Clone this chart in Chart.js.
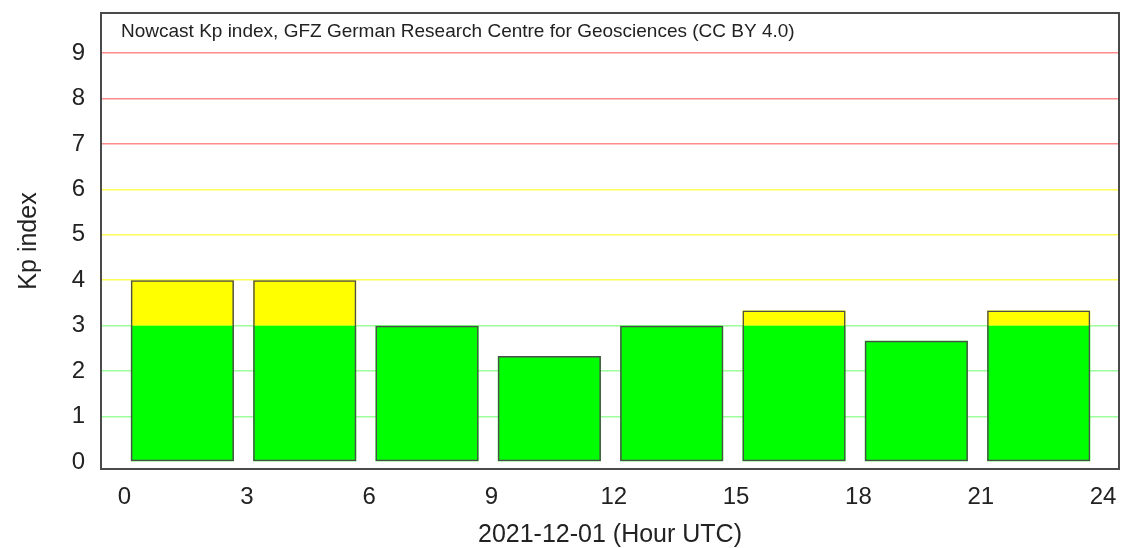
<!DOCTYPE html>
<html>
<head>
<meta charset="utf-8">
<script src="https://cdn.jsdelivr.net/npm/chart.js@4.4.1/dist/chart.umd.min.js"></script>
<style>
  html, body { margin: 0; padding: 0; background: #ffffff; }
  #wrap { width: 1123px; height: 548px; position: relative; }
</style>
</head>
<body>
<div id="wrap"><canvas id="kp"></canvas></div>
<script>
// Three-hourly Kp values for 2021-12-01, one per 3-hour slot
const slotStartHours = [0, 3, 6, 9, 12, 15, 18, 21];
const kpValues = [4, 4, 3, 2.333, 3, 3.333, 2.667, 3.333];
const hourTicks = [0, 3, 6, 9, 12, 15, 18, 21, 24];
const kpTicks = [0, 1, 2, 3, 4, 5, 6, 7, 8, 9];

const titleText = 'Nowcast Kp index, GFZ German Research Centre for Geosciences (CC BY 4.0)';
const xTitle = '2021-12-01 (Hour UTC)';
const yTitle = 'Kp index';

const FONT = '"Liberation Sans", Arial, Helvetica, sans-serif';
const SLOT_CENTER = 1.42;   // bar centre inside each 3-hour slot

// colour bands: quiet (0-3), active (3-4), storm (>4)
const greenBand = slotStartHours.map((h, i) => ({ x: h + SLOT_CENTER, y: [0, Math.min(kpValues[i], 3)] }));
const yellowBand = slotStartHours
  .map((h, i) => ({ x: h + SLOT_CENTER, v: kpValues[i] }))
  .filter(d => d.v > 3)
  .map(d => ({ x: d.x, y: [3, Math.min(d.v, 4)] }));
const redBand = slotStartHours
  .map((h, i) => ({ x: h + SLOT_CENTER, v: kpValues[i] }))
  .filter(d => d.v > 4)
  .map(d => ({ x: d.x, y: [4, d.v] }));
const outline = slotStartHours.map((h, i) => ({ x: h + SLOT_CENTER, y: [0, kpValues[i]] }));

function gridColour(v) {
  if (v === 0) return 'rgba(0,0,0,0)';
  if (v <= 3) return '#9cff9c';
  if (v <= 6) return '#ffff55';
  return '#ff8c8c';
}

const framePlugin = {
  id: 'frame',
  afterDraw(chart) {
    const { ctx, chartArea: a } = chart;
    ctx.save();
    ctx.strokeStyle = '#4a4a4a';
    ctx.lineWidth = 2;
    ctx.strokeRect(a.left, a.top, a.right - a.left, a.bottom - a.top);
    ctx.font = '19px ' + FONT;
    ctx.fillStyle = '#222222';
    ctx.textBaseline = 'middle';
    ctx.textAlign = 'left';
    ctx.fillText(titleText, a.left + 20, a.top + 19);
    ctx.restore();
  }
};

const barCommon = {
  grouped: false,
  categoryPercentage: 0.843,
  barPercentage: 1,
  borderSkipped: false
};

new Chart(document.getElementById('kp'), {
  type: 'bar',
  data: {
    datasets: [
      Object.assign({ label: 'outline', data: outline, backgroundColor: 'rgba(0,0,0,0)', borderColor: '#4d4d4d', borderWidth: 1.5, order: 0 }, barCommon),
      Object.assign({ label: 'Kp ≤ 3', data: greenBand, backgroundColor: '#00ff00', borderWidth: 0, order: 1 }, barCommon),
      Object.assign({ label: '3 < Kp ≤ 4', data: yellowBand, backgroundColor: '#ffff00', borderWidth: 0, order: 1 }, barCommon),
      Object.assign({ label: 'Kp > 4', data: redBand, backgroundColor: '#ff0000', borderWidth: 0, order: 1 }, barCommon)
    ]
  },
  options: {
    responsive: true,
    maintainAspectRatio: false,
    animation: false,
    devicePixelRatio: 1,
    layout: { padding: { top: 13, right: 4, left: 0, bottom: 0 } },
    plugins: { legend: { display: false }, tooltip: { enabled: false }, title: { display: false } },
    scales: {
      x: {
        type: 'linear',
        offset: false,
        min: -0.576,
        max: 24.39,
        afterBuildTicks: s => { s.ticks = hourTicks.map(v => ({ value: v })); },
        afterFit: s => { s.height = 79; s.paddingLeft = 0; s.paddingRight = 0; },
        grid: { display: false, drawTicks: false, offset: false },
        border: { display: false },
        ticks: { padding: 14, color: '#222222', font: { family: FONT, size: 24 }, maxRotation: 0, autoSkip: false },
        title: { display: true, text: xTitle, color: '#222222', font: { family: FONT, size: 25 }, padding: { top: 0, bottom: -2 } }
      },
      y: {
        min: -0.154,
        max: 9.88,
        afterBuildTicks: s => { s.ticks = kpTicks.map(v => ({ value: v })); },
        afterFit: s => { s.width = 101; s.paddingTop = 0; s.paddingBottom = 0; },
        grid: { drawTicks: false, lineWidth: 1.5, color: c => gridColour(c.tick ? c.tick.value : -1) },
        border: { display: false },
        ticks: { padding: 16, color: '#222222', font: { family: FONT, size: 24 } },
        title: { display: true, text: yTitle, color: '#222222', font: { family: FONT, size: 25 }, padding: { top: 14, bottom: 0 } }
      }
    }
  },
  plugins: [framePlugin]
});
</script>
</body>
</html>
